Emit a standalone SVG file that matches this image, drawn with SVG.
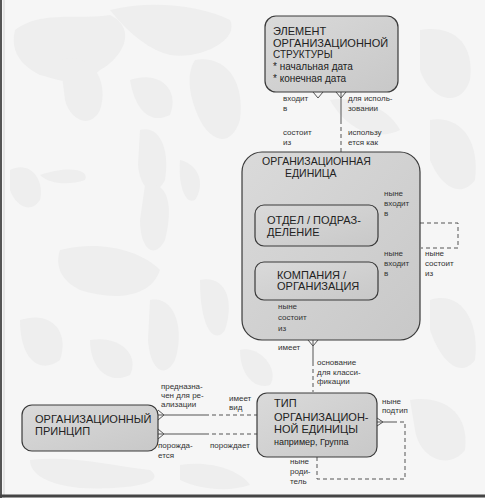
<svg xmlns="http://www.w3.org/2000/svg" width="485" height="498" viewBox="0 0 485 498">
<defs>
<linearGradient id="gf" x1="0" y1="0" x2="1" y2="1">
<stop offset="0" stop-color="#dadada"/>
<stop offset="1" stop-color="#c8c8c8"/>
</linearGradient>
<style>
.bx{fill:url(#gf);stroke:#3a3a3a;stroke-width:1.2}
.t{font-family:"Liberation Sans",Arial,sans-serif;font-size:11px;fill:#222}
.s{font-family:"Liberation Sans",Arial,sans-serif;font-size:8px;fill:#333}
.ln{fill:none;stroke:#555;stroke-width:1}
.dl{fill:none;stroke:#555;stroke-width:1;stroke-dasharray:4,3}
.mk{fill:none;stroke:#555;stroke-width:1}
.bg{fill:#eeeeee}
</style>
</defs>
<rect width="485" height="498" fill="#f6f6f6"/>
<g id="background">
<path class="bg" d="M15 30 C40 10 80 20 110 15 C140 30 120 60 100 70 C80 90 60 80 40 75 C20 65 10 50 15 30Z"/>
<path class="bg" d="M110 10 C150 0 200 5 230 20 C240 40 200 60 170 55 C150 50 130 35 110 10Z"/>
<path class="bg" d="M60 60 C90 50 110 80 100 110 C90 130 70 120 65 100Z"/>
<path class="bg" d="M130 80 C160 70 180 90 170 115 C150 125 135 110 130 80Z"/>
<path class="bg" d="M195 60 C225 55 245 80 240 120 C230 150 210 140 200 120 C190 100 185 75 195 60Z"/>
<path class="bg" d="M140 130 C160 125 170 150 165 180 C155 200 140 190 138 165Z"/>
<path class="bg" d="M10 170 C30 160 45 180 40 200 C30 215 15 205 10 190Z"/>
<path class="bg" d="M145 185 C165 180 175 200 165 240 C155 260 140 250 140 220Z"/>
<path class="bg" d="M40 175 C70 165 90 170 85 180 C70 185 50 185 40 175Z"/>
<path class="bg" d="M180 160 C200 165 205 185 195 200 C185 205 178 185 180 160Z"/>
<path class="bg" d="M60 250 C100 240 140 250 160 270 C150 300 110 300 80 290 C60 280 55 265 60 250Z"/>
<path class="bg" d="M150 300 C175 295 185 330 175 360 C165 380 150 370 148 340Z"/>
<path class="bg" d="M20 320 C50 310 70 330 60 360 C40 375 20 360 20 320Z"/>
<path class="bg" d="M90 340 C120 335 140 355 130 375 C110 385 90 370 90 340Z"/>
<path class="bg" d="M200 280 C225 275 235 300 225 330 C215 345 200 330 200 280Z"/>
<path class="bg" d="M420 30 C450 25 475 40 470 80 C460 110 430 100 420 70Z"/>
<path class="bg" d="M430 120 C460 115 480 140 475 180 C460 200 440 185 430 160Z"/>
<path class="bg" d="M430 300 C460 290 480 320 475 360 C460 380 440 360 430 330Z"/>
<path class="bg" d="M410 400 C440 395 470 410 465 450 C450 470 420 460 415 430Z"/>
<path class="bg" d="M30 460 C70 455 110 465 150 470 C170 485 120 490 80 488 C50 485 30 475 30 460Z"/>
<path class="bg" d="M180 465 C210 460 240 470 250 485 C230 492 200 490 180 480Z"/>
<path class="bg" d="M330 100 C360 95 390 110 400 130 C380 140 350 135 330 100Z"/>
<path class="bg" d="M240 350 C260 345 280 370 270 385 C255 390 240 375 240 350Z"/>
</g>
<line x1="1" y1="0" x2="1" y2="498" stroke="#555" stroke-width="2"/>
<line x1="4" y1="0" x2="4" y2="498" stroke="#d4d4d4" stroke-width="1"/>
<line x1="0" y1="496" x2="485" y2="496" stroke="#444" stroke-width="3"/>

<g id="connectors">
<line class="ln" x1="341" y1="92" x2="341" y2="120"/>
<line class="dl" x1="341" y1="120" x2="341" y2="152"/>
<path class="mk" d="M336 92 L341 98 L346 92"/>
<path class="mk" d="M313 92 L318 98 L323 92"/>
<line class="ln" x1="378" y1="223" x2="420" y2="223"/>
<path class="dl" d="M420 223 H458 V248 H421"/>
<path class="mk" d="M378 219 L384 223 L378 227"/>
<path class="ln" d="M378 282 H394 V318"/>
<path class="dl" d="M394 318 H313 V301"/>
<path class="mk" d="M378 278 L384 282 L378 286"/>
<path class="mk" d="M378 300 L375 303"/>
<line class="ln" x1="313" y1="340" x2="313" y2="362"/>
<line class="dl" x1="313" y1="362" x2="313" y2="392"/>
<path class="mk" d="M308 340 L313 346 L318 340"/>
<path class="ln" d="M377 422 H393"/>
<path class="dl" d="M393 422 H405 V479 H317 V457"/>
<path class="mk" d="M377 418 L383 422 L377 426"/>
<line class="ln" x1="158" y1="415" x2="205" y2="415"/>
<line class="dl" x1="205" y1="415" x2="257" y2="415"/>
<line class="ln" x1="158" y1="434" x2="205" y2="434"/>
<line class="dl" x1="205" y1="434" x2="257" y2="434"/>
<path class="mk" d="M158 410 L164 415 L158 420"/>
<path class="mk" d="M158 429 L164 434 L158 439"/>
</g>

<g id="element">
<rect class="bx" x="265" y="16" width="133" height="76" rx="11"/>
<text class="t" x="273" y="35">ЭЛЕМЕНТ</text>
<text class="t" x="273" y="47">ОРГАНИЗАЦИОННОЙ</text>
<text class="t" x="273" y="58" style="font-size:10px">СТРУКТУРЫ</text>
<text class="t" x="273" y="70" style="font-size:10px">* начальная дата</text>
<text class="t" x="273" y="82" style="font-size:10px">* конечная дата</text>
</g>

<g id="labels-top">
<text class="s" x="283" y="101">входит</text>
<text class="s" x="283" y="111">в</text>
<text class="s" x="283" y="135">состоит</text>
<text class="s" x="283" y="145">из</text>
<text class="s" x="348" y="101">для исполь-</text>
<text class="s" x="348" y="111">зовании</text>
<text class="s" x="348" y="135">использу</text>
<text class="s" x="348" y="145">ется как</text>
</g>

<g id="org-unit">
<rect class="bx" x="242" y="152" width="178" height="188" rx="20"/>
<text class="t" x="262" y="165" style="font-size:10.5px">ОРГАНИЗАЦИОННАЯ</text>
<text class="t" x="285" y="177" style="font-size:10.5px">ЕДИНИЦА</text>
</g>

<g id="otdel">
<rect class="bx" x="255" y="205" width="123" height="41" rx="9"/>
<text class="t" x="267" y="224">ОТДЕЛ / ПОДРАЗ-</text>
<text class="t" x="267" y="236">ДЕЛЕНИЕ</text>
</g>

<g id="kompania">
<rect class="bx" x="255" y="262" width="123" height="38" rx="9"/>
<text class="t" x="277" y="279">КОМПАНИЯ /</text>
<text class="t" x="277" y="290">ОРГАНИЗАЦИЯ</text>
</g>

<g id="labels-mid">
<text class="s" x="384" y="196">ныне</text>
<text class="s" x="384" y="206">входит</text>
<text class="s" x="384" y="216">в</text>
<text class="s" x="384" y="256">ныне</text>
<text class="s" x="384" y="266">входит</text>
<text class="s" x="384" y="276">в</text>
<text class="s" x="425" y="256">ныне</text>
<text class="s" x="425" y="266">состоит</text>
<text class="s" x="425" y="276">из</text>
<text class="s" x="278" y="309">ныне</text>
<text class="s" x="278" y="320">состоит</text>
<text class="s" x="278" y="331">из</text>
<text class="s" x="278" y="350">имеет</text>
<text class="s" x="317" y="365">основание</text>
<text class="s" x="317" y="375">для класси-</text>
<text class="s" x="317" y="384">фикации</text>
</g>

<g id="tip">
<rect class="bx" x="257" y="393" width="120" height="64" rx="10"/>
<text class="t" x="274" y="407">ТИП</text>
<text class="t" x="274" y="421">ОРГАНИЗАЦИОН-</text>
<text class="t" x="274" y="433">НОЙ ЕДИНИЦЫ</text>
<text class="t" x="274" y="445" style="font-size:9px">например, Группа</text>
</g>

<g id="principle">
<rect class="bx" x="22" y="405" width="136" height="46" rx="10"/>
<text class="t" x="35" y="423">ОРГАНИЗАЦИОННЫЙ</text>
<text class="t" x="35" y="435">ПРИНЦИП</text>
</g>

<g id="labels-bottom">
<text class="s" x="161" y="389">предназна-</text>
<text class="s" x="161" y="398">чен для ре-</text>
<text class="s" x="161" y="407">ализации</text>
<text class="s" x="229" y="401">имеет</text>
<text class="s" x="229" y="410">вид</text>
<text class="s" x="158" y="448">порожда-</text>
<text class="s" x="158" y="458">ется</text>
<text class="s" x="210" y="448">порождает</text>
<text class="s" x="382" y="404">ныне</text>
<text class="s" x="382" y="413">подтип</text>
<text class="s" x="290" y="464">ныне</text>
<text class="s" x="290" y="474">роди-</text>
<text class="s" x="290" y="484">тель</text>
</g>
</svg>
